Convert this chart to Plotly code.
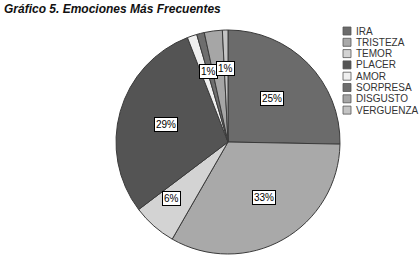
import math
import plotly.graph_objects as go

categories = ["IRA", "TRISTEZA", "TEMOR", "PLACER", "AMOR", "SORPRESA", "DISGUSTO", "VERGUENZA"]
values = [25.3, 33.0, 6.4, 29.4, 1.4, 1.1, 2.6, 0.8]
colors = ["#6b6b6b", "#a9a9a9", "#d3d3d3", "#545454", "#efefef", "#6e6e6e", "#a6a6a6", "#c4c4c4"]
show_label = [True, True, True, True, False, True, False, True]
label_radius = [0.55, 0.65, 0.76, 0.58, 0.7, 0.72, 0.7, 0.72]

W, H = 419, 261
dom_x = [116 / W, 340 / W]
dom_y = [1 - 254 / H, 1 - 30 / H]

fig = go.Figure(go.Pie(
    labels=categories, values=values, sort=False, direction="clockwise", rotation=0,
    marker=dict(colors=colors, line=dict(color="#3a3a3a", width=1)),
    textinfo="none", hoverinfo="label+percent", showlegend=False,
    domain=dict(x=dom_x, y=dom_y),
))

cx = (dom_x[0] + dom_x[1]) / 2
cy = (dom_y[0] + dom_y[1]) / 2
rx = (dom_x[1] - dom_x[0]) / 2
ry = (dom_y[1] - dom_y[0]) / 2
total = sum(values)
annotations = []
cum = 0.0
for cat, v, s, rr in zip(categories, values, show_label, label_radius):
    mid = (cum + v / 2) / total * 2 * math.pi
    cum += v
    if not s:
        continue
    annotations.append(dict(
        x=cx + rr * rx * math.sin(mid), y=cy + rr * ry * math.cos(mid),
        xref="paper", yref="paper", showarrow=False,
        text=f"{round(v / total * 100)}%",
        font=dict(family="Liberation Sans, Arial", size=10, color="#000"),
        bgcolor="#ffffff", bordercolor="#000000", borderwidth=1, borderpad=1,
    ))

# manual legend
leg_x = 343 / W
leg_y0 = 31
leg_dy = 11.3
shapes = []
for i, (cat, col) in enumerate(zip(categories, colors)):
    yc = leg_y0 + i * leg_dy
    shapes.append(dict(type="rect", xref="paper", yref="paper",
                       x0=leg_x, x1=leg_x + 8 / W,
                       y0=1 - (yc + 4) / H, y1=1 - (yc - 4) / H,
                       fillcolor=col, line=dict(color="#555", width=0.8)))
    annotations.append(dict(x=leg_x + 11 / W, y=1 - yc / H, xref="paper", yref="paper",
                            xanchor="left", yanchor="middle", showarrow=False, text=cat,
                            font=dict(family="Liberation Sans, Arial", size=10, color="#333")))

annotations.append(dict(x=2 / W, y=1 - 9 / H, xref="paper", yref="paper", xanchor="left",
                        yanchor="middle", showarrow=False,
                        text="<b><i>Gráfico 5. Emociones Más Frecuentes</i></b>",
                        font=dict(family="Liberation Sans, Arial", size=12, color="#111")))

fig.update_layout(width=W, height=H, margin=dict(l=0, r=0, t=0, b=0),
                  paper_bgcolor="white", plot_bgcolor="white",
                  annotations=annotations, shapes=shapes)
fig.write_html("out.html")
